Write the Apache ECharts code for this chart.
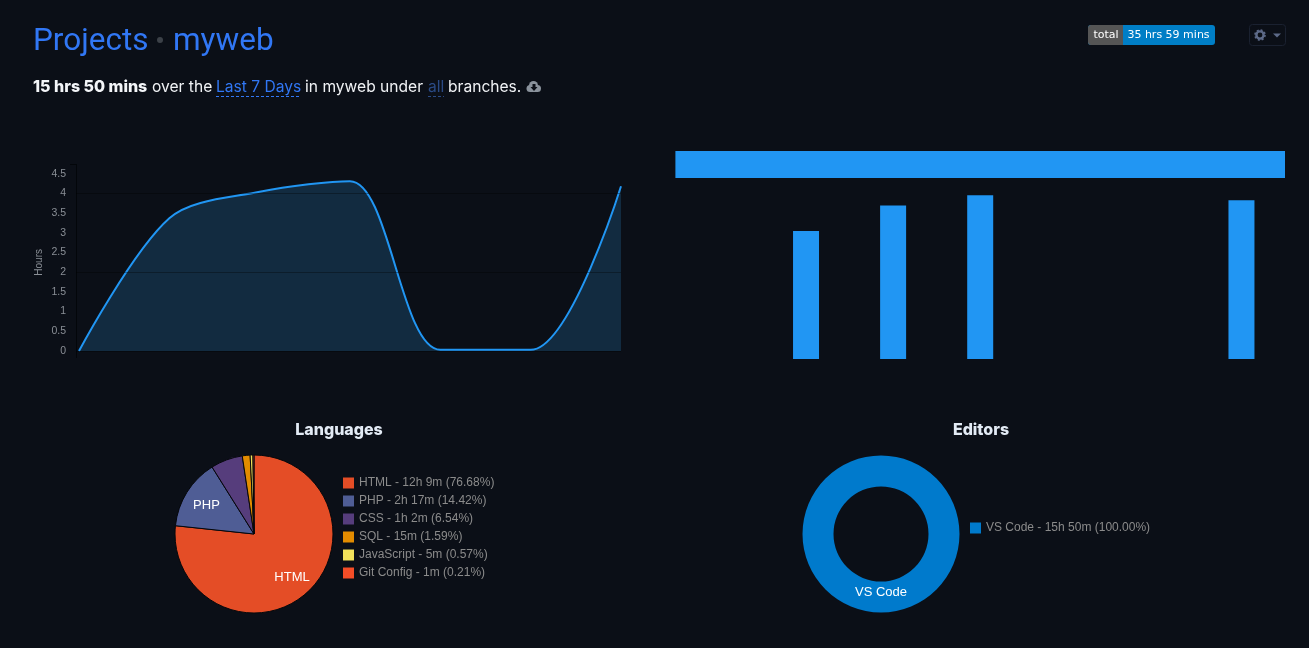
<!DOCTYPE html>
<html><head><meta charset="utf-8">
<style>html,body{margin:0;padding:0;background:#0b0f17}#c{width:1309px;height:648px}</style>
<script src="https://cdn.jsdelivr.net/npm/echarts@6/dist/echarts.min.js"></script>
</head><body><div id="c"></div>
<script>
const days = ['Day 1','Day 2','Day 3','Day 4','Day 5','Day 6','Day 7'];
const hours = [0, 3.37, 4.04, 4.31, 0.03, 0.03, 4.18];
const barHours = [0, 3.37, 4.04, 4.31, 0, 0, 4.18];
const projectName = ['myweb'];
const projectTotal = [15.83];
const langNames = ['HTML','PHP','CSS','SQL','JavaScript','Git Config'];
const langTimes = ['12h 9m','2h 17m','1h 2m','15m','5m','1m'];
const langPct = [76.68,14.42,6.54,1.59,0.57,0.21];
const langColors = ['#e44d26','#4f5d95','#563d7c','#e38c00','#f1e05a','#f44d27'];
const editorNames = ['VS Code'];
const editorTimes = ['15h 50m'];
const editorPct = [100];
const yTicks = {min:0,max:4.5,step:0.5};

const BG='#0b0f17', F='Roboto', HF='Inter', LF='"Liberation Sans"', BLUE='#3177f5';
const txt=(x,y,text,fill,size,weight,align,fam)=>({type:'text',x,y,silent:true,style:{text,fill,font:`${weight||'normal'} ${size}px ${fam||F}`,textAlign:align||'left',textVerticalAlign:'middle'}});
const line=(x1,y1,x2,y2,stroke,extra)=>({type:'line',silent:true,shape:{x1,y1,x2,y2},style:Object.assign({stroke,lineWidth:1},extra||{})});
const hline=(v)=>({yAxis:v,lineStyle:{color:'rgba(0,0,0,0.32)',type:'solid',width:1},symbol:'none',label:{show:false}});

const langLabels={HTML:[9.6,11.7],PHP:[-11.5,-6]};
const option={
  backgroundColor:BG,animation:false,
  title:[
    {text:'Languages',left:339,top:422,padding:0,textAlign:'center',textStyle:{color:'#e3ebf5',fontFamily:HF,fontWeight:800,fontSize:16}},
    {text:'Editors',left:981,top:422,padding:0,textAlign:'center',textStyle:{color:'#e3ebf5',fontFamily:HF,fontWeight:800,fontSize:16}}
  ],
  grid:[
    {left:76,width:545,top:173.7,height:177.3,containLabel:false},
    {left:675.4,width:609.6,top:179,height:180},
    {left:675.4,width:609.6,top:151,height:27}
  ],
  xAxis:[
    {gridIndex:0,type:'value',min:-0.033,max:6,axisLabel:{show:false},axisTick:{show:false},splitLine:{show:false},axisLine:{show:false}},
    {gridIndex:1,type:'category',data:days,show:false},
    {gridIndex:2,type:'value',min:0,max:projectTotal[0],show:false}
  ],
  yAxis:[
    {gridIndex:0,type:'value',min:yTicks.min,max:yTicks.max,interval:yTicks.step,name:'Hours',nameLocation:'middle',nameGap:32,nameRotate:90,
     nameTextStyle:{color:'#8a8f96',fontSize:10,fontFamily:LF},
     axisLabel:{color:'#8a8f96',fontSize:10.5,fontFamily:LF,margin:10,padding:[2,0,0,0]},axisTick:{show:false},axisLine:{show:false},splitLine:{show:false}},
    {gridIndex:1,type:'value',min:0,max:180/38,show:false,splitLine:{show:false}},
    {gridIndex:2,type:'category',data:projectName,show:false}
  ],
  legend:[
    {orient:'vertical',left:343,top:476,padding:0,itemWidth:11,itemHeight:11,itemGap:4,icon:'rect',selectedMode:false,itemStyle:{borderWidth:0},
     data:langNames,textStyle:{color:'#8b8b8b',fontSize:12,fontFamily:LF,lineHeight:14},
     formatter:n=>{const i=langNames.indexOf(n);return `${n} - ${langTimes[i]} (${langPct[i].toFixed(2)}%)`;}},
    {orient:'vertical',left:970,top:521,padding:0,itemWidth:11,itemHeight:11,icon:'rect',selectedMode:false,itemStyle:{borderWidth:0},
     data:editorNames,textStyle:{color:'#8b8b8b',fontSize:12,fontFamily:LF,lineHeight:14},
     formatter:n=>{const i=editorNames.indexOf(n);return `${n} - ${editorTimes[i]} (${editorPct[i].toFixed(2)}%)`;}}
  ],
  series:[
    {type:'line',xAxisIndex:0,yAxisIndex:0,data:hours.map((v,i)=>[i,v]),smooth:0.32,symbol:'none',
     lineStyle:{color:'#2196f3',width:2},areaStyle:{color:'#122b40',opacity:1},
     markLine:{silent:true,symbol:'none',label:{show:false},animation:false,data:[hline(0),hline(2),hline(4)]}},
    {type:'bar',xAxisIndex:1,yAxisIndex:1,data:barHours,barWidth:26,itemStyle:{color:'#2196f3'}},
    {type:'bar',xAxisIndex:2,yAxisIndex:2,data:projectTotal,barWidth:27,itemStyle:{color:'#2196f3'}},
    {type:'pie',center:[254,534],radius:[0,79],startAngle:90,clockwise:true,
     itemStyle:{borderColor:'#05070b',borderWidth:1},
     labelLine:{show:false},
     data:langNames.map((n,i)=>({name:n,value:langPct[i],itemStyle:{color:langColors[i]},
       label:langLabels[n]?{show:true,position:'inside',formatter:'{b}',color:'#fff',fontSize:13,fontFamily:LF,offset:langLabels[n]}:{show:false}}))},
    {type:'pie',center:[881,534],radius:[47.5,78.5],startAngle:90,
     itemStyle:{color:'#007acc',borderWidth:0},labelLine:{show:false},
     data:editorNames.map((n,i)=>({name:n,value:editorPct[i],itemStyle:{color:'#007acc'},
       label:{show:true,position:'inside',formatter:'{b}',color:'#fff',fontSize:13,fontFamily:LF,offset:[0,-8]}}))}
  ],
  graphic:[
    txt(33,42,'Projects',BLUE,31.5),
    {type:'circle',silent:true,shape:{cx:160,cy:40,r:3},style:{fill:'#3c4148'}},
    txt(173,42,'myweb',BLUE,31.5),
    txt(33,87,'15 hrs 50 mins','#f3f5f8',16,800,'left',HF),
    txt(152,87,'over the','#f0f2f5',15.6,'normal','left',HF),
    txt(216,87,'Last 7 Days',BLUE,15.6,'normal','left',HF),
    txt(305,87,'in myweb under','#f0f2f5',15.6,'normal','left',HF),
    txt(428,87,'all','#2a4a85',15.6,'normal','left',HF),
    txt(448,87,'branches.','#f0f2f5',15.6,'normal','left',HF),
    line(216,96.5,301,96.5,BLUE,{lineDash:[3,2]}),
    line(428,96.5,444,96.5,'#2a4a85',{lineDash:[3,2]}),
    {type:'circle',silent:true,shape:{cx:530,cy:88.5,r:3.5},style:{fill:'#8a929c'}},
    {type:'circle',silent:true,shape:{cx:533.5,cy:85.5,r:4.5},style:{fill:'#8a929c'}},
    {type:'circle',silent:true,shape:{cx:537.5,cy:88.5,r:3.5},style:{fill:'#8a929c'}},
    {type:'rect',silent:true,shape:{x:530,y:87,width:8,height:5},style:{fill:'#8a929c'}},
    {type:'polygon',silent:true,shape:{points:[[532.5,84],[535.5,84],[535.5,87],[537.5,87],[534,91],[530.5,87],[532.5,87]]},style:{fill:BG}},
    {type:'rect',silent:true,shape:{x:1088,y:25,width:127,height:20,r:3},style:{fill:'#007ec6'}},
    {type:'rect',silent:true,shape:{x:1088,y:25,width:35,height:20,r:[3,0,0,3]},style:{fill:'#555555'}},
    txt(1106,35,'total','#ffffff',11,'normal','center','DejaVu Sans'),
    txt(1168.5,35,'35 hrs 59 mins','#ffffff',11,'normal','center','DejaVu Sans'),
    {type:'rect',silent:true,shape:{x:1249.5,y:24.5,width:36,height:21,r:3},style:{fill:'transparent',stroke:'#1a2130',lineWidth:1}},
    {type:'circle',silent:true,shape:{cx:1260,cy:35,r:3.6},style:{fill:'transparent',stroke:'#5d6a88',lineWidth:2.4}},
    {type:'circle',silent:true,shape:{cx:1260,cy:35,r:5},style:{fill:'transparent',stroke:'#5d6a88',lineWidth:1.6,lineDash:[2,1.93]}},
    {type:'polygon',silent:true,shape:{points:[[1273,33.5],[1281,33.5],[1277,37.5]]},style:{fill:'#5d6a88'}},
    line(76.5,164,76.5,358,'#03060a'),
    line(70,164.5,76.5,164.5,'#03060a')
  ]
};
echarts.init(document.getElementById('c')).setOption(option);
</script></body></html>
